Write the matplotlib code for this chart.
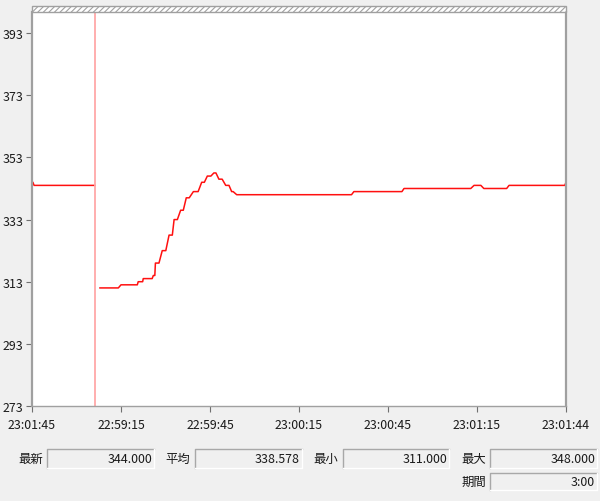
import matplotlib
matplotlib.use('Agg')
import matplotlib.pyplot as plt
from matplotlib.patches import Rectangle
from matplotlib.lines import Line2D

plt.rcParams['font.family'] = ['Noto Sans CJK JP', 'DejaVu Sans']
plt.rcParams['hatch.linewidth'] = 0.8

# seconds from the left edge of the 3:00 window
cursor_t = 21.2

# newest samples (wrapped in front of the cursor)
new_start = [0.0, 0.7]
new_end = [0.3, 21.2]
new_level = [345, 344]

# older samples (after the cursor)
old_start = [22.9, 30.0, 35.8, 37.5, 40.9, 41.6, 43.9, 46.2, 47.9, 50.1, 52.0, 54.4,
             57.2, 59.1, 61.3, 63.0, 65.3, 67.3, 69.0, 108.5, 125.4, 149.0, 152.3,
             160.8, 180.0]
old_end = [29.1, 35.5, 37.3, 40.5, 41.4, 42.8, 45.1, 47.3, 49.0, 51.0, 53.0, 56.0,
           58.1, 60.3, 62.0, 64.1, 66.4, 67.8, 107.7, 124.7, 147.9, 151.3, 160.0,
           179.6, 180.0]
old_level = [311, 312, 313, 314, 315, 319, 323, 328, 333, 336, 340, 342,
             345, 347, 348, 346, 344, 342, 341, 342, 343, 344, 343, 344, 345]

x_ticks = [0, 30, 60, 90, 120, 150, 180]
x_labels = ['23:01:45', '22:59:15', '22:59:45', '23:00:15', '23:00:45', '23:01:15', '23:01:44']
y_ticks = [273, 293, 313, 333, 353, 373, 393]

stats_labels = ['最新', '平均', '最小', '最大', '期間']
stats_values = ['344.000', '338.578', '311.000', '348.000', '3:00']

FS = 8.9


def steps(starts, ends, levels):
    xs, ys = [], []
    for s, e, v in zip(starts, ends, levels):
        xs += [s, e]
        ys += [v, v]
    return xs, ys


W, H = 600, 502
fig = plt.figure(figsize=(6, 5.02), dpi=100, facecolor='#f0f0f0')


def fx(px):
    return px / W


def fy(py):
    return 1 - py / H


ax = fig.add_axes([fx(32), fy(407), fx(566) - fx(32), fy(13) - fy(407)])
ax.set_facecolor('white')

x1, y1 = steps(new_start, new_end, new_level)
x2, y2 = steps(old_start, old_end, old_level)
ax.plot(x1, y1, color='#ff1010', lw=1.1)
ax.plot(x2, y2, color='#ff1010', lw=1.1)
ax.axvline(cursor_t, color='#ffa8a8', lw=1.3)

ax.set_xlim(0, 180)
ax.set_ylim(273, 399.8)
ax.set_xticks(x_ticks)
ax.set_xticklabels(x_labels)
ax.set_yticks(y_ticks)
ax.tick_params(axis='both', labelsize=FS, color='#707070', length=4, width=0.8,
               colors='#707070', labelcolor='#1a1a1a')
ax.tick_params(axis='x', pad=5)
ax.tick_params(axis='y', pad=2)
for side in ['left', 'right']:
    ax.spines[side].set_color('#a0a0a0')
    ax.spines[side].set_linewidth(1.6)
ax.spines['bottom'].set_color('#a0a0a0')
ax.spines['bottom'].set_linewidth(1.0)
ax.spines['top'].set_visible(False)

# hatched band above the plot
band = Rectangle((fx(32), fy(13)), fx(566) - fx(32), fy(7) - fy(13),
                 transform=fig.transFigure, facecolor='white', edgecolor='#a0a0a0',
                 hatch='//////', lw=1.0)
fig.add_artist(band)

# readout boxes
boxes = [(18, 47, 154, 450, 469), (165, 195, 302, 450, 469), (313, 343, 449, 450, 469),
         (461, 490, 597, 450, 469), (461, 490, 597, 474, 491)]
for (lx, bx0, bx1, by0, by1), lab, val in zip(boxes, stats_labels, stats_values):
    fig.text(fx(lx), fy((by0 + by1) / 2), lab, fontsize=FS, color='#1a1a1a',
             ha='left', va='center')
    fig.add_artist(Rectangle((fx(bx0), fy(by1)), fx(bx1) - fx(bx0), fy(by0) - fy(by1),
                             transform=fig.transFigure, facecolor='#f0f0f0',
                             edgecolor='none'))
    fig.add_artist(Line2D([fx(bx0), fx(bx0), fx(bx1)], [fy(by1), fy(by0), fy(by0)],
                          transform=fig.transFigure, color='#a8a8a8', lw=1.0))
    fig.add_artist(Line2D([fx(bx0), fx(bx1), fx(bx1)], [fy(by1), fy(by1), fy(by0)],
                          transform=fig.transFigure, color='#ffffff', lw=1.0))
    fig.text(fx(bx1 - 2), fy((by0 + by1) / 2), val, fontsize=FS, color='#1a1a1a',
             ha='right', va='center')

fig.savefig('out.png', dpi=100, facecolor=fig.get_facecolor())
